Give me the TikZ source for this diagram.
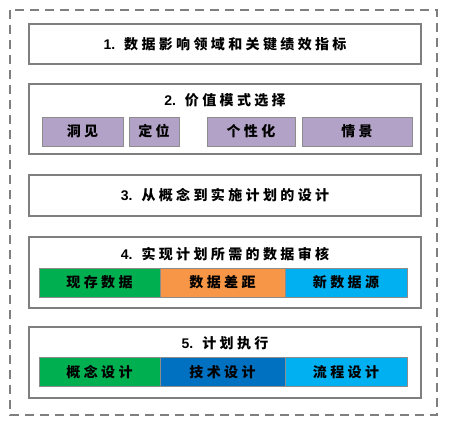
\documentclass[tikz,border=0pt]{standalone}
\usepackage{fontspec}
\setmainfont{Noto Sans CJK SC}
\newfontfamily\numfont{Liberation Sans}
\usetikzlibrary{positioning}

\definecolor{framegray}{HTML}{7F7F7F}
\definecolor{barline}{HTML}{8C8C8C}
\definecolor{lavender}{HTML}{B3A2C7}
\definecolor{grassgreen}{HTML}{00B050}
\definecolor{apricot}{HTML}{F79646}
\definecolor{skyblue}{HTML}{00B0F0}
\definecolor{deepblue}{HTML}{0070C0}

\newcommand{\stepno}[1]{{\numfont\bfseries #1.}\hspace{9pt}}

\begin{document}
\begin{tikzpicture}[x=1pt,y=-1pt,
    font=\bfseries\fontsize{14}{16}\selectfont\addfontfeature{LetterSpace=24}]
    \tikzset{
        stage/.style={
            draw=framegray, line width=2pt, inner sep=0pt,
            minimum width=392pt, minimum height=#1
        },
        title/.style={inner sep=0pt},
        part/.style={
            draw=barline, line width=0.8pt, inner sep=0pt,
            fill=#1, minimum height=29pt
        }
    }

    \useasboundingbox (0,0) rectangle (451,430);
    \draw[framegray, line width=1.6pt, dash pattern=on 9pt off 6pt]
        (10,10) rectangle (437,415);

    % stage 1
    \node[stage=40pt] (s1) at (225,44) {\stepno{1}数据影响领域和关键绩效指标};

    % stage 2
    \node[stage=70pt] (s2) at (225,119) {};
    \node[title] (t2) at (225,100) {\stepno{2}价值模式选择};
    \node[part=lavender, minimum width=81pt] (insight) at (82.5,131.5) {洞见};
    \node[part=lavender, minimum width=50pt] (position) at (154,131.5) {定位};
    \node[part=lavender, minimum width=88pt] (personal) at (251,131.5) {个性化};
    \node[part=lavender, minimum width=110pt] (scene) at (357,131.5) {情景};

    % stage 3
    \node[stage=41pt] (s3) at (225,195.5) {\stepno{3}从概念到实施计划的设计};

    % stage 4
    \node[stage=71pt] (s4) at (225,272.5) {};
    \node[title] (t4) at (225,254) {\stepno{4}实现计划所需的数据审核};
    \node[part=grassgreen, minimum width=121pt] (exist) at (99.5,282.5) {现存数据};
    \node[part=apricot, minimum width=125pt] (gap) at (222.5,282.5) {数据差距};
    \node[part=skyblue, minimum width=122pt] (newsrc) at (346,282.5) {新数据源};

    % stage 5
    \node[stage=71pt] (s5) at (225,362.5) {};
    \node[title] (t5) at (225,343) {\stepno{5}计划执行};
    \node[part=grassgreen, minimum width=121pt] (concept) at (99.5,372) {概念设计};
    \node[part=deepblue, minimum width=125pt] (tech) at (222.5,372) {技术设计};
    \node[part=skyblue, minimum width=122pt] (flow) at (346,372) {流程设计};
\end{tikzpicture}
\end{document}
